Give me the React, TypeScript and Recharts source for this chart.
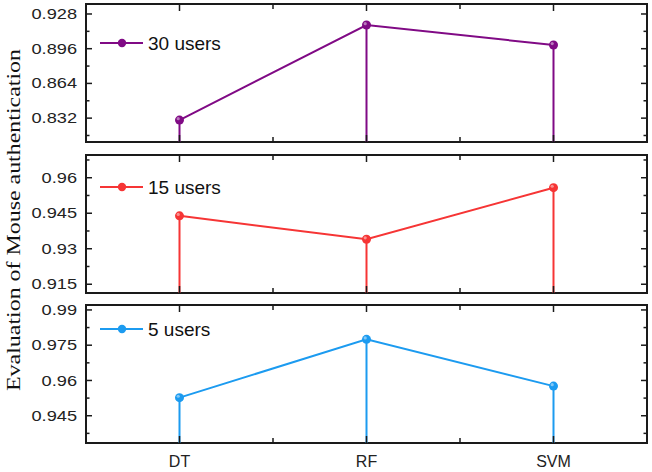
import React from "react";
import { LineChart, Line, XAxis, YAxis, ReferenceArea, Legend } from "recharts";

// categories and values
const categories = ["DT", "RF", "SVM"];
const users30 = [0.8302, 0.9178, 0.8994];
const users15 = [0.9439, 0.934, 0.9558];
const users5 = [0.9527, 0.9775, 0.9576];

const ticks30 = [0.832, 0.864, 0.896, 0.928];
const ticks15 = [0.915, 0.93, 0.945, 0.96];
const ticks5 = [0.945, 0.96, 0.975, 0.99];

const W = 652;
const H = 472;
const PLOT_LEFT = 86;
const PLOT_RIGHT = 647;
const Y_AXIS_W = 60;
const X_AXIS_H = 20;
const SANS = '"Liberation Sans", Arial, sans-serif';
const SERIF = '"Liberation Serif", "Times New Roman", serif';

type PanelProps = {
  name: string;
  values: number[];
  majors: number[];
  domain: [number, number];
  color: string;
  plotTop: number;
  plotBottom: number;
  legendTop: number;
  showX: boolean;
};

const withMinors = (majors: number[], domain: [number, number]) => {
  const step = majors[1] - majors[0];
  const out: number[] = [];
  majors.forEach((m) => {
    out.push(m);
    const lo = +(m - step / 2).toFixed(5);
    const hi = +(m + step / 2).toFixed(5);
    if (lo >= domain[0] && !out.includes(lo)) out.push(lo);
    if (hi <= domain[1] && !out.includes(hi) && !majors.includes(hi)) out.push(hi);
  });
  return out.sort((a, b) => a - b);
};

const Panel: React.FC<PanelProps> = ({
  name,
  values,
  majors,
  domain,
  color,
  plotTop,
  plotBottom,
  legendTop,
  showX,
}) => {
  const rows = categories.map((c, i) => ({ x: i + 1, name: c, v: values[i] }));
  const yTicks = withMinors(majors, domain);

  const renderYTick = (p: any) => {
    const v = p.payload.value;
    const major = majors.some((m) => Math.abs(m - v) < 1e-6);
    const len = major ? 6 : 3.5;
    return (
      <g>
        <line x1={PLOT_LEFT} x2={PLOT_LEFT + len} y1={p.y} y2={p.y} stroke="#1a1a1a" strokeWidth={1.5} />
        <line x1={PLOT_RIGHT - len} x2={PLOT_RIGHT} y1={p.y} y2={p.y} stroke="#1a1a1a" strokeWidth={1.5} />
        {major && (
          <g transform={`translate(${PLOT_LEFT - 9},${p.y}) scale(1.3,1)`}>
            <text x={0} y={0} dy="0.36em" textAnchor="end" fontFamily={SANS} fontSize={14} fill="#222">
              {String(v)}
            </text>
          </g>
        )}
      </g>
    );
  };

  const renderXTick = (p: any) => {
    const v = p.payload.value;
    const whole = Number.isInteger(v);
    const len = whole ? 7 : 5;
    return (
      <g>
        <line x1={p.x} x2={p.x} y1={plotTop} y2={plotTop + len} stroke="#1a1a1a" strokeWidth={1.5} />
        <line x1={p.x} x2={p.x} y1={plotBottom - len} y2={plotBottom} stroke="#1a1a1a" strokeWidth={1.5} />
        {showX && whole && (
          <text x={p.x} y={plotBottom + 24} textAnchor="middle" fontFamily={SANS} fontSize={16} fill="#222">
            {categories[v - 1]}
          </text>
        )}
      </g>
    );
  };

  const renderDot = (p: any) => (
    <g key={`dot-${name}-${p.index}`}>
      <line x1={p.cx} x2={p.cx} y1={p.cy} y2={plotBottom} stroke={color} strokeWidth={2} />
      <circle cx={p.cx} cy={p.cy} r={4.5} fill={color} />
      <circle cx={p.cx - 1.3} cy={p.cy - 1.4} r={1.6} fill="#fff" opacity={0.45} />
    </g>
  );

  const renderLegend = () => (
    <svg width={140} height={26} style={{ display: "block" }}>
      <line x1={2} x2={45} y1={12} y2={12} stroke={color} strokeWidth={2} />
      <circle cx={24} cy={12} r={4.2} fill={color} />
      <text x={50} y={19} fontFamily={SANS} fontSize={19} fill="#111">
        {name}
      </text>
    </svg>
  );

  return (
    <div style={{ position: "absolute", left: 0, top: 0 }}>
      <LineChart
        width={W}
        height={H}
        data={rows}
        margin={{
          top: plotTop,
          bottom: H - plotBottom - X_AXIS_H,
          left: PLOT_LEFT - Y_AXIS_W,
          right: W - PLOT_RIGHT,
        }}
      >
        <XAxis
          dataKey="x"
          type="number"
          domain={[0.5, 3.5]}
          ticks={[1, 1.5, 2, 2.5, 3]}
          interval={0}
          height={X_AXIS_H}
          axisLine={false}
          tickLine={false}
          tick={renderXTick}
        />
        <YAxis
          type="number"
          domain={domain}
          allowDataOverflow
          ticks={yTicks}
          interval={0}
          width={Y_AXIS_W}
          axisLine={false}
          tickLine={false}
          tick={renderYTick}
        />
        <ReferenceArea
          x1={0.5}
          x2={3.5}
          y1={domain[0]}
          y2={domain[1]}
          fill="none"
          fillOpacity={0}
          stroke="#1a1a1a"
          strokeWidth={2}
          ifOverflow="visible"
        />
        <Line
          type="linear"
          dataKey="v"
          name={name}
          stroke={color}
          strokeWidth={2}
          dot={renderDot}
          activeDot={false}
          isAnimationActive={false}
        />
        <Legend
          verticalAlign="middle"
          align="center"
          layout="horizontal"
          content={renderLegend}
          wrapperStyle={{ top: legendTop, left: 98, width: 140, height: 26 }}
        />
      </LineChart>
    </div>
  );
};

const App: React.FC = () => (
  <div style={{ position: "absolute", left: 0, top: 0, width: W, height: H, background: "#fff" }}>
    <Panel
      name="30 users"
      values={users30}
      majors={ticks30}
      domain={[0.81, 0.9372]}
      color="#800A85"
      plotTop={4}
      plotBottom={142}
      legendTop={31}
      showX={false}
    />
    <Panel
      name="15 users"
      values={users15}
      majors={ticks15}
      domain={[0.9113, 0.9696]}
      color="#F63535"
      plotTop={155}
      plotBottom={293}
      legendTop={175}
      showX={false}
    />
    <Panel
      name="5 users"
      values={users5}
      majors={ticks5}
      domain={[0.9334, 0.9921]}
      color="#1C9BF0"
      plotTop={305}
      plotBottom={443}
      legendTop={317}
      showX={true}
    />
    <svg width={30} height={H} style={{ position: "absolute", left: 0, top: 0 }}>
      <g transform="translate(20,220) rotate(-90) scale(1.33,1)">
        <text x={0} y={0} textAnchor="middle" fontFamily={SERIF} fontSize={18} fill="#111">
          Evaluation of Mouse authentication
        </text>
      </g>
    </svg>
  </div>
);

export default App;
